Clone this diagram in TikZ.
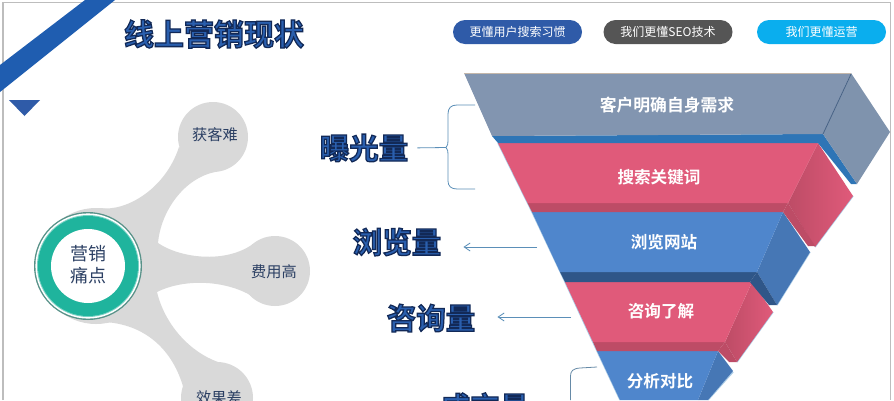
\documentclass[tikz,border=0pt]{standalone}
\usepackage{fontspec}
\setmainfont{Noto Sans CJK SC}
\newfontfamily\cjkbold{Noto Sans CJK SC Bold}
\usetikzlibrary{arrows.meta}
\newcommand{\outlined}[1]{\special{pdf:code q 2 Tr 1.25 w 0.07 0.16 0.34 RG}#1\special{pdf:code Q}}
\definecolor{framegray}{HTML}{BDBDBD}
\definecolor{stripeblue}{HTML}{1F5DB0}
\definecolor{pillblue}{HTML}{2F5BA8}
\definecolor{pillgray}{HTML}{555555}
\definecolor{pillcyan}{HTML}{0AAEEE}
\definecolor{blobgray}{HTML}{D9D9D9}
\definecolor{ringgreen}{HTML}{1FB49D}
\definecolor{inktext}{HTML}{2B3F63}
\definecolor{steel}{HTML}{8295B0}
\definecolor{steelside}{HTML}{7F93AD}
\definecolor{midblue}{HTML}{2E75B6}
\definecolor{rose}{HTML}{E05A7A}
\definecolor{rosedark}{HTML}{BD4C66}
\definecolor{sky}{HTML}{4F86CC}
\definecolor{skyside}{HTML}{4677B5}
\definecolor{navy}{HTML}{2F5688}
\definecolor{linkblue}{HTML}{5B8FB8}
\definecolor{titleblue}{HTML}{2A5FAE}
\definecolor{glow}{HTML}{A9CBE6}
\tikzset{
  pill/.style={rounded corners=12pt,minimum width=129pt,minimum height=24pt,text=white,font=\fontsize{12}{14}\selectfont,inner sep=0pt},
  headline/.style={text=titleblue,font=\cjkbold\fontsize{30}{32}\selectfont,inner sep=0pt},
  biglabel/.style={text=titleblue,font=\cjkbold\fontsize{29.5}{31}\selectfont,inner sep=0pt},
  funneltext/.style={text=white,font=\cjkbold\fontsize{16.6}{18}\selectfont,inner sep=0pt},
  bubbletext/.style={text=inktext,font=\fontsize{15.2}{17}\selectfont,inner sep=0pt},
  linkline/.style={draw=linkblue,line width=0.8pt},
  glowedge/.style={draw=glow,line width=1.4pt,line join=round},
}
\begin{document}
\begin{tikzpicture}[x=1pt,y=-1pt]
\useasboundingbox (0,0) rectangle (894,400);
\clip (0,0) rectangle (894,400);
\fill[white] (0,0) rectangle (894,400);
% frame
\draw[framegray,line width=1.5pt] (3,400) -- (3,2.5) -- (890.5,2.5) -- (890.5,400);
% stripe and marker
\fill[stripeblue] (85,0) -- (115,0) -- (0,92) -- (0,65) -- cycle;
\fill[pillblue] (9,100) -- (40,100) -- (24.5,116) -- cycle;
% title
\node[headline,anchor=center] (title) at (214,34) {\outlined{线上营销现状}};
% pills
\node[pill,fill=pillblue] (p1) at (517.5,32) {更懂用户搜索习惯};
\node[pill,fill=pillgray] (p2) at (668,32) {我们更懂SEO技术};
\node[pill,fill=pillcyan] (p3) at (821.5,32) {我们更懂运营};
% gray blob
\fill[blobgray] (213,137) circle (35);
\fill[blobgray] (275,271) circle (35);
\fill[blobgray] (217,398) circle (36);
\fill[blobgray] (96,266) circle (58);
\fill[blobgray] (100,208) .. controls (125,212) and (165,190) .. (179,147)
  -- (215,172) .. controls (185,178) and (161,210) .. (158,243)
  .. controls (180,258) and (225,264) .. (253,244)
  -- (255,298) .. controls (228,280) and (185,278) .. (157,292)
  .. controls (165,325) and (190,352) .. (218,362)
  -- (184,390) .. controls (175,355) and (150,325) .. (105,322) -- (88,266) -- cycle;
% ring
\fill[black!45!ringgreen!70!white] (88,266) circle (54);
\fill[white] (88,266) circle (52.6);
\fill[ringgreen!60!white] (88,266) circle (51);
\fill[ringgreen] (88,266) circle (50);
\fill[white] (88,266) circle (37);
\node[bubbletext,font=\fontsize{18}{22}\selectfont,align=center] (core) at (88.5,265) {营销\\痛点};
\node[bubbletext] (b1) at (215,135) {获客难};
\node[bubbletext] (b2) at (274,272) {费用高};
\node[bubbletext] (b3) at (219,398) {效果差};
% big labels
\node[biglabel] (la) at (364,148) {\outlined{曝光量}};
\node[biglabel] (lb) at (397,242) {\outlined{浏览量}};
\node[biglabel] (lc) at (431,318) {\outlined{咨询量}};
\node[biglabel] (ld) at (485,407) {\outlined{成交量}};
% funnel layer 5
\draw[glowedge] (597,351) -- (620,400);
\draw[glowedge] (733,372) -- (708,400);
\fill[skyside] (718,351) -- (733,371) -- (708,400) -- (698,400) -- cycle;
\fill[sky] (597,351) -- (718,351) -- (698,400) -- (620,400) -- cycle;
\node[funneltext] (f5) at (660,381) {分析对比};
% funnel layer 4
\draw[glowedge] (565,282) -- (597,351);
\draw[glowedge] (773,312) -- (737,362);
\shade[left color=rosedark,right color=rose] (752,282) -- (773,312) -- (737,362) -- (725,342) -- cycle;
\fill[rosedark] (725,342) -- (737,362) -- (729,362) -- (718,351) -- cycle;
\fill[rosedark] (593,342) -- (725,342) -- (718,351) -- (597,351) -- cycle;
\fill[rose] (565,282) -- (752,282) -- (725,342) -- (593,342) -- cycle;
\node[funneltext] (f4) at (661,311) {咨询了解};
% funnel layer 3
\draw[glowedge] (532,212) -- (565,282);
\draw[glowedge] (810,252) -- (777,305);
\fill[skyside] (783,212) -- (810,252) -- (777,305) -- (757,272) -- cycle;
\fill[navy] (757,272) -- (777,305) -- (769,305) -- (750,282) -- cycle;
\fill[navy] (560,272) -- (757,272) -- (750,282) -- (565,282) -- cycle;
\fill[sky] (532,212) -- (783,212) -- (757,272) -- (560,272) -- cycle;
\node[funneltext] (f3) at (664,242) {浏览网站};
% funnel layer 2
\draw[glowedge] (498,143) -- (532,212);
\draw[glowedge] (853,196) -- (815,247);
\shade[left color=rosedark,right color=rose] (818,143) -- (853,196) -- (815,247) -- (788,203) -- cycle;
\fill[rosedark] (788,203) -- (815,246) -- (808,246) -- (783,212) -- cycle;
\fill[rosedark] (527.5,203) -- (788,203) -- (783,212) -- (532,212) -- cycle;
\fill[rose] (498,143) -- (818,143) -- (788,203) -- (527.5,203) -- cycle;
\node[funneltext] (f2) at (659,177) {搜索关键词};
% funnel layer 1
\fill[midblue] (492,136) -- (823,134) -- (857,184) -- (851,184) -- (818,143) -- (498,143) -- cycle;
\fill[steelside] (851,73) -- (890,132) -- (857,184) -- (823,134) -- cycle;
\fill[steel] (464,73) -- (851,73) -- (823,134) -- (492,136) -- cycle;
\draw[navy!70!gray,line width=0.8pt] (851,74) -- (823,134);
\draw[framegray!90!orange,line width=1pt] (464,73) -- (851,73);
\node[funneltext,font=\cjkbold\fontsize{16.8}{18}\selectfont] (f1) at (667,105) {客户明确自身需求};
% connectors
\coordinate (bt) at (475,105);
\coordinate (bb) at (475,189);
\coordinate (a1) at (537,247);
\coordinate (a2) at (571,317);
\coordinate (ct) at (597,367);
\draw[linkline,shorten <=9pt] (la.east) -- (446,147.5) .. controls (448,146) and (448,143) .. (448,140) -- (448,114) .. controls (448,108) and (451,105) .. (457,105) -- (bt);
\draw[linkline] (446,147.5) .. controls (448,149) and (448,152) .. (448,155) -- (448,181) .. controls (448,186) and (451,189) .. (457,189) -- (bb);
\draw[linkline,-{Straight Barb[length=6pt,width=8pt]},shorten >=22pt] (a1) -- (lb.east |- a1);
\draw[linkline,-{Straight Barb[length=6pt,width=8pt]},shorten >=22pt] (a2) -- (lc.east |- a2);
\draw[linkline,draw=linkblue!70!gray] (ct) -- (580,368) .. controls (573,368.5) and (570.5,371) .. (570.5,376) -- (570.5,400);
\end{tikzpicture}
\end{document}
